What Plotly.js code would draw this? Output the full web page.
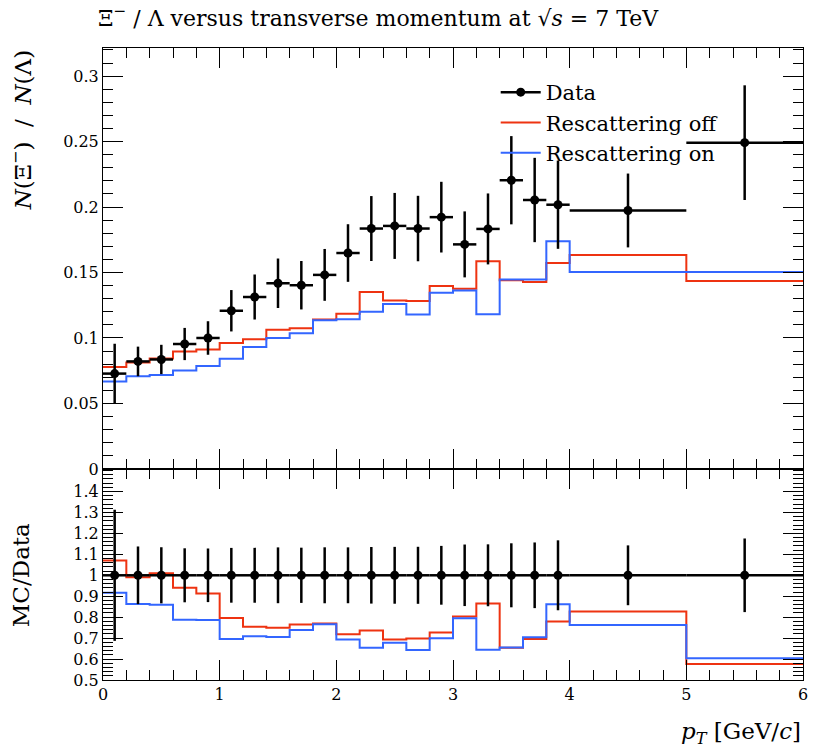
<!DOCTYPE html>
<html>
<head>
<meta charset="utf-8">
<script src="https://cdn.plot.ly/plotly-3.0.1.min.js"></script>
<style>html,body{margin:0;padding:0;background:#fff}</style>
</head>
<body>
<div id="plot" style="width:830px;height:750px"></div>
<script>
// bin edges in pT [GeV/c]
const binEdges = [0,0.2,0.4,0.6,0.8,1.0,1.2,1.4,1.6,1.8,2.0,2.2,2.4,2.6,2.8,3.0,3.2,3.4,3.6,3.8,4.0,5.0,6.0];
// Data: Xi-/Lambda ratio and uncertainty
const dataVals = [0.0728,0.0821,0.0836,0.0954,0.1000,0.1208,0.1313,0.1418,0.1403,0.1482,0.1649,0.1836,0.1856,0.1836,0.1923,0.1715,0.1833,0.2205,0.2054,0.2018,0.1974,0.2492];
const dataErr  = [0.0228,0.0113,0.0112,0.0123,0.0128,0.0158,0.0172,0.0189,0.0185,0.0198,0.0220,0.0248,0.0252,0.0250,0.0270,0.0252,0.0271,0.0337,0.0322,0.0337,0.0282,0.0438];
// MC: rescattering off / on
const rescOff = [0.0779,0.0813,0.0844,0.0897,0.0913,0.0962,0.0990,0.1062,0.1074,0.1141,0.1185,0.1351,0.1287,0.1282,0.1397,0.1377,0.1587,0.1441,0.1428,0.1572,0.1633,0.1436];
const rescOn  = [0.0667,0.0708,0.0718,0.0751,0.0787,0.0841,0.0931,0.1000,0.1036,0.1136,0.1144,0.1200,0.1259,0.1180,0.1346,0.1363,0.1182,0.1446,0.1446,0.1738,0.1505,0.1505];
// tick labels
const xTicks = [0,1,2,3,4,5,6];
const mainYTicks = [0,0.05,0.1,0.15,0.2,0.25,0.3];
const ratioYTicks = [0.5,0.6,0.7,0.8,0.9,1.0,1.1,1.2,1.3,1.4];

const RED = '#EE3311', BLUE = '#3366FF';
const FONT = 'DejaVu Serif, serif';

const centers = dataVals.map((_, i) => (binEdges[i] + binEdges[i+1]) / 2);
const halfW = dataVals.map((_, i) => (binEdges[i+1] - binEdges[i]) / 2);
const stepY = arr => arr.concat([arr[arr.length-1]]);
const ratioOff = rescOff.map((v, i) => v / dataVals[i]);
const ratioOn = rescOn.map((v, i) => v / dataVals[i]);
const ratioOne = dataVals.map(() => 1);
const ratioErr = dataErr.map((e, i) => e / dataVals[i]);

const traces = [
  {x: [null], y: [null], mode: 'lines+markers', line: {color: 'black', width: 2.5}, marker: {color: 'black', size: 9}, name: 'Data', xaxis: 'x', yaxis: 'y', showlegend: true},
  {x: binEdges, y: stepY(rescOff), mode: 'lines', line: {shape: 'hv', color: RED, width: 2}, name: 'Rescattering off', xaxis: 'x', yaxis: 'y', showlegend: true},
  {x: binEdges, y: stepY(rescOn), mode: 'lines', line: {shape: 'hv', color: BLUE, width: 2}, name: 'Rescattering on', xaxis: 'x', yaxis: 'y', showlegend: true},
  {x: centers, y: dataVals, mode: 'markers', marker: {color: 'black', size: 9},
   error_y: {type: 'data', array: dataErr, color: 'black', thickness: 2.5, width: 0},
   error_x: {type: 'data', array: halfW, color: 'black', thickness: 2.5, width: 0},
   name: 'Data', xaxis: 'x', yaxis: 'y', showlegend: false},
  // ratio panel
  {x: binEdges, y: stepY(ratioOff), mode: 'lines', line: {shape: 'hv', color: RED, width: 2}, xaxis: 'x2', yaxis: 'y2', showlegend: false},
  {x: binEdges, y: stepY(ratioOn), mode: 'lines', line: {shape: 'hv', color: BLUE, width: 2}, xaxis: 'x2', yaxis: 'y2', showlegend: false},
  {x: centers, y: ratioOne, mode: 'markers', marker: {color: 'black', size: 9},
   error_y: {type: 'data', array: ratioErr, color: 'black', thickness: 2.5, width: 0},
   error_x: {type: 'data', array: halfW, color: 'black', thickness: 2.5, width: 0},
   xaxis: 'x2', yaxis: 'y2', showlegend: false}
];

const axisCommon = {
  showline: true, linecolor: 'black', linewidth: 1, mirror: 'ticks',
  ticks: 'inside', ticklen: 20, tickcolor: 'black', tickwidth: 1,
  showgrid: false, zeroline: false,
  tickfont: {family: FONT, size: 16, color: 'black'}
};

const layout = {
  width: 830, height: 750,
  margin: {l: 103, r: 27, t: 48, b: 70},
  paper_bgcolor: 'white', plot_bgcolor: 'white',
  font: {family: FONT, color: 'black'},
  title: {text: 'Ξ<sup>−</sup> / Λ versus transverse momentum at √<i>s</i> = 7 TeV',
          font: {family: FONT, size: 22, color: 'black'},
          xref: 'container', x: 0.118, xanchor: 'left', y: 0.976, yanchor: 'middle'},
  xaxis: Object.assign({}, axisCommon, {range: [0, 6], anchor: 'y', matches: 'x2', showticklabels: false,
          tickvals: xTicks, minor: {dtick: 0.2, ticklen: 10, ticks: 'inside', tickcolor: 'black', showgrid: false}}),
  yaxis: Object.assign({}, axisCommon, {domain: [0.334, 1], range: [0, 0.3215], tickvals: mainYTicks,
          ticktext: mainYTicks.map(v => String(v)),
          minor: {dtick: 0.01, ticklen: 10, ticks: 'inside', tickcolor: 'black', showgrid: false}}),
  xaxis2: Object.assign({}, axisCommon, {range: [0, 6], anchor: 'y2', tickvals: xTicks,
          minor: {dtick: 0.2, ticklen: 10, ticks: 'inside', tickcolor: 'black', showgrid: false}}),
  yaxis2: Object.assign({}, axisCommon, {domain: [0, 0.334], range: [0.5, 1.508], tickvals: ratioYTicks,
          ticktext: ratioYTicks.map(v => String(v)),
          minor: {dtick: 0.02, ticklen: 10, ticks: 'inside', tickcolor: 'black', showgrid: false}}),
  legend: {x: 0.561, y: 0.962, xanchor: 'left', yanchor: 'top', bgcolor: 'rgba(0,0,0,0)',
           font: {family: FONT, size: 21, color: 'black'}, traceorder: 'normal', itemwidth: 40},
  annotations: [
    {text: '<i>N</i>(Ξ<sup>−</sup>)  /  <i>N</i>(Λ)', textangle: -90, xref: 'paper', yref: 'paper',
     x: -0.117, y: 0.870, xanchor: 'center', yanchor: 'middle', showarrow: false,
     font: {family: FONT, size: 23, color: 'black'}},
    {text: 'MC/Data', textangle: -90, xref: 'paper', yref: 'paper',
     x: -0.117, y: 0.166, xanchor: 'center', yanchor: 'middle', showarrow: false,
     font: {family: FONT, size: 23, color: 'black'}},
    {text: '<i>p</i><sub><i>T</i></sub> [GeV/<i>c</i>]', xref: 'paper', yref: 'paper',
     x: 1, y: -0.084, xanchor: 'right', yanchor: 'middle', showarrow: false,
     font: {family: FONT, size: 23, color: 'black'}}
  ]
};

Plotly.newPlot('plot', traces, layout, {displayModeBar: false, staticPlot: true});
</script>
</body>
</html>
